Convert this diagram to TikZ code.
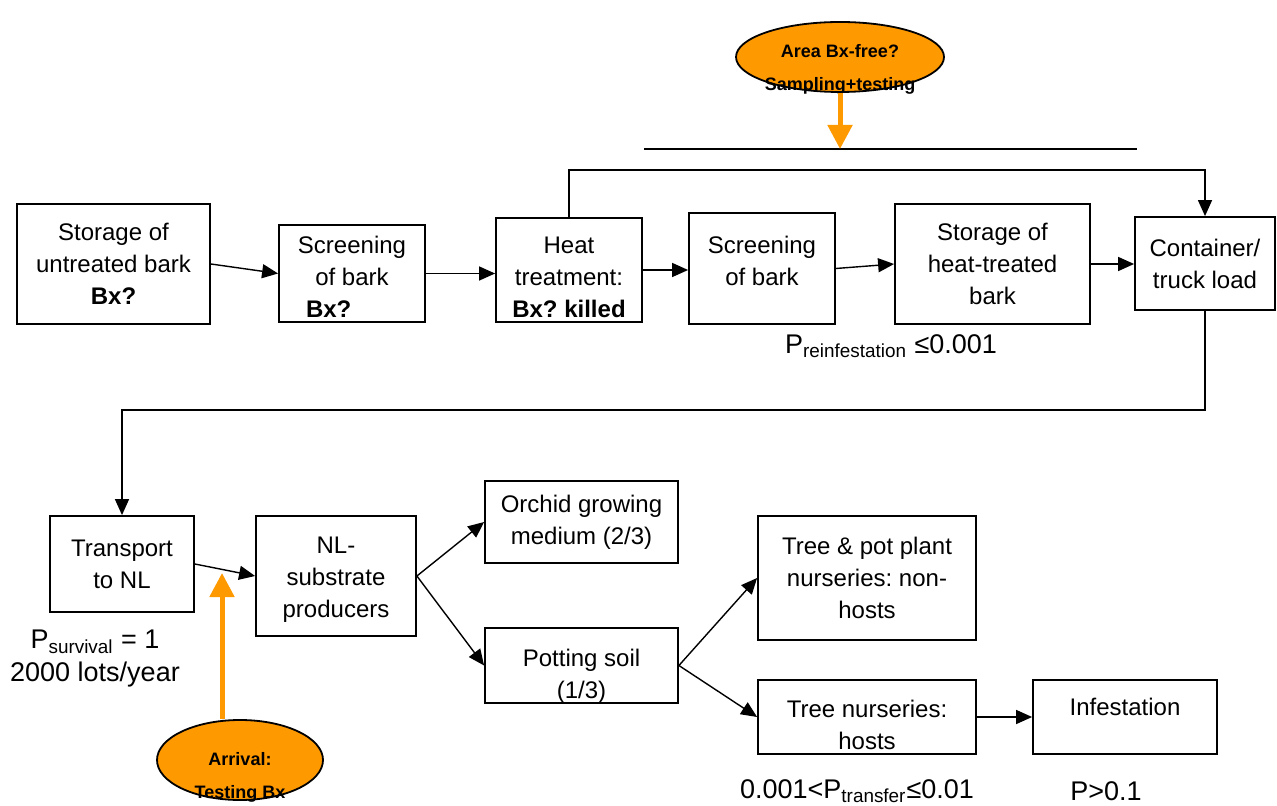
\documentclass[tikz,border=0pt]{standalone}
\usepackage{fontspec}
\setmainfont{Liberation Sans}
\usetikzlibrary{arrows.meta,shapes.geometric}
\definecolor{alarm}{RGB}{255,153,0}
\frenchspacing
\tikzset{
  stepbox/.style={draw, line width=0.9pt, inner sep=0pt, align=center, font=\fontsize{12}{16}\selectfont},
  boxtext/.style={inner sep=0pt, align=center, font=\fontsize{12}{16}\selectfont},
  flow/.style={-{Triangle[width=7pt,length=8pt]}, line width=0.7pt},
  check/.style={ellipse, draw, line width=0.9pt, fill=alarm, minimum width=104pt, minimum height=35pt, inner sep=0pt},
  checktext/.style={align=center, font=\fontsize{9}{16.5}\selectfont\bfseries},
  testarrow/.style={-{Triangle[width=12pt,length=12pt]}, line width=2.5pt, draw=alarm},
  prob/.style={align=center, font=\fontsize{13.5}{16.5}\selectfont}
}
\begin{document}
\begin{tikzpicture}[x=0.5pt,y=-0.5pt]
\useasboundingbox (0,0) rectangle (1277,806);

\node[stepbox, minimum width=96.5pt, minimum height=60pt] (stor1) at (113.5,264) {Storage of\\untreated bark\\\textbf{Bx?}};
\node[stepbox, minimum width=73pt, minimum height=48.5pt] (scr1) at (352,273.5) {};
\node[boxtext] (scr1txt) at ([yshift=-1.5pt]scr1.center) {Screening\\of bark\\\makebox[46pt][l]{\textbf{Bx?}}};
\node[stepbox, minimum width=73pt, minimum height=52pt] (heat) at (569,270) {};
\node[boxtext] (heattxt) at ([yshift=-3.5pt]heat.center) {Heat\\treatment:\\\textbf{Bx? killed}};
\node[stepbox, minimum width=73pt, minimum height=55.5pt] (scr2) at (762,268.5) {};
\node[boxtext] (scr2txt) at ([yshift=4pt]scr2.center) {Screening\\of bark};
\node[stepbox, minimum width=97.5pt, minimum height=60pt] (stor2) at (992.5,264) {Storage of\\heat-treated\\bark};
\node[stepbox, minimum width=70pt, minimum height=46.5pt] (cont) at (1205,263.5) {Container/\\truck load};

\node[stepbox, minimum width=72pt, minimum height=48pt] (transport) at (122,564) {Transport\\to NL};
\node[stepbox, minimum width=80pt, minimum height=60pt] (nl) at (336,576) {};
\node[boxtext] (nltxt) at ([yshift=-2pt]nl.center) {NL-\\substrate\\producers};
\node[stepbox, minimum width=96.5pt, minimum height=41pt] (orchid) at (581.5,522) {Orchid growing\\medium (2/3)};
\node[stepbox, minimum width=96.5pt, minimum height=37.5pt] (potting) at (581.5,665.5) {};
\node[boxtext] (pottingtxt) at ([yshift=-5.25pt]potting.center) {Potting soil\\(1/3)};
\node[stepbox, minimum width=109pt, minimum height=62pt] (nonhost) at (867,578) {Tree \& pot plant\\nurseries: non-\\hosts};
\node[stepbox, minimum width=109pt, minimum height=37pt] (host) at (867,717) {};
\node[boxtext] (hosttxt) at ([yshift=-3.75pt]host.center) {Tree nurseries:\\hosts};
\node[stepbox, minimum width=92pt, minimum height=37pt] (infest) at (1125,717) {};
\node[boxtext] (infesttxt) at ([yshift=5pt]infest.center) {Infestation};

\coordinate (loopT) at (0,170);
\coordinate (loopB) at (0,410);
\coordinate (lineL) at (644,149);
\coordinate (lineM) at (840,149);
\coordinate (lineR) at (1137,149);
\coordinate (arrivalTip) at (222,573);

\draw[flow] (stor1.east) -- (scr1.west);
\draw[flow] (scr1.east) -- (scr1.east -| heat.west);
\draw[flow] (heat.east) -- (heat.east -| scr2.west);
\draw[flow] (scr2.east) -- (stor2.west);
\draw[flow] (stor2.east) -- (stor2.east -| cont.west);
\draw[flow] (heat.north) -- (heat.north |- loopT) -| (cont.north);
\draw[flow] (cont.south) -- (cont.south |- loopB) -| (transport.north);
\draw[line width=0.9pt] (lineL) -- (lineR);

\draw[flow] (transport.east) -- (nl.west);
\draw[flow] (nl.east) -- (orchid.west);
\draw[flow] (nl.east) -- (potting.west);
\draw[flow] (potting.east) -- (nonhost.west);
\draw[flow] (potting.east) -- (host.west);
\draw[flow] (host.east) -- (infest.west);

\node[check] (area) at (840,57) {};
\node[checktext] (areatxt) at (840,69) {Area Bx-free?\\Sampling+testing};
\draw[testarrow] (area.south) -- (lineM);

\node[check, minimum width=83pt, minimum height=40pt] (arrival) at (240,760) {};
\node[checktext] (arrivaltxt) at (240,777) {Arrival:\\Testing Bx};
\draw[testarrow] ([xshift=-9pt]arrival.north) -- (arrivalTip);

\node[prob] (psurv) at (95,659) {P\textsubscript{survival} = 1\\2000 lots/year};
\node[prob] (preinf) at (891,346) {P\textsubscript{reinfestation} ≤0.001};
\node[prob] (ptrans) at (857,791) {0.001<P\textsubscript{transfer}≤0.01};
\node[prob] (pinf) at (1106,791) {P>0.1};

\end{tikzpicture}
\end{document}
